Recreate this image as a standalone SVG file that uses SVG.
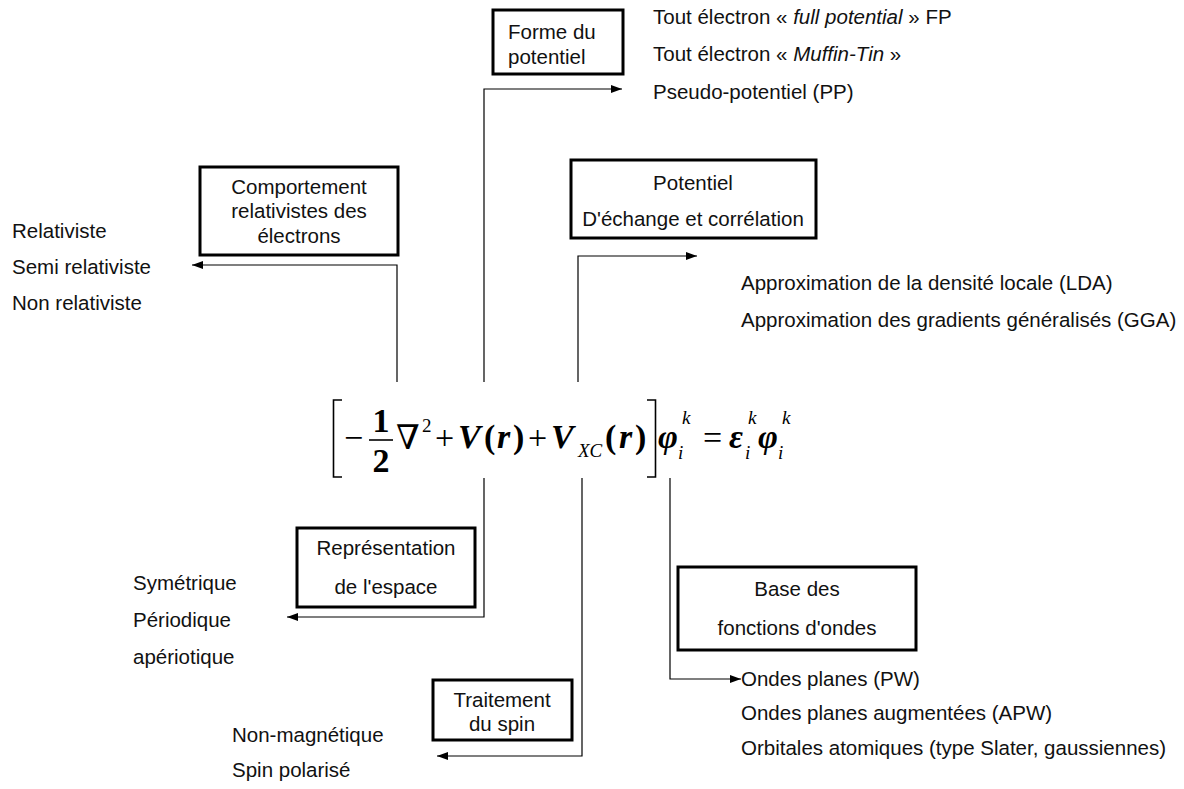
<svg xmlns="http://www.w3.org/2000/svg" width="1184" height="789" viewBox="0 0 1184 789">
  <style>
    .lbl { font-family: "Liberation Sans", Arial, sans-serif; font-size: 20.5px; fill: #111; }
    .mid { text-anchor: middle; }
    .box { fill: #fff; stroke: #000; stroke-width: 3; }
    .wire { fill: none; stroke: #000; stroke-width: 1.2; }
    .m { font-family: "Liberation Serif", "DejaVu Serif", "Times New Roman", serif; fill: #000; font-size: 34px; }
    .bi { font-weight: bold; font-style: italic; }
    .b { font-weight: bold; }
    .it { font-style: italic; }
    .sm { font-size: 19px; }
    .delim { fill: none; stroke: #000; stroke-width: 1.6; }
  </style>
  <defs>
    <marker id="arrow" markerWidth="12" markerHeight="10" refX="11" refY="5" orient="auto" markerUnits="userSpaceOnUse">
      <path d="M0,1 L11,5 L0,9 Z" fill="#000"/>
    </marker>
  </defs>
  <rect width="1184" height="789" fill="#fff"/>

  <!-- connectors from the equation terms to their option lists -->
  <g id="connectors">
    <polyline class="wire" points="484,382 484,89 622,89" marker-end="url(#arrow)"/>
    <polyline class="wire" points="397,382 397,265 192,265" marker-end="url(#arrow)"/>
    <polyline class="wire" points="578,382 578,256 697,256" marker-end="url(#arrow)"/>
    <polyline class="wire" points="484,478 484,617 287,617" marker-end="url(#arrow)"/>
    <polyline class="wire" points="582,478 582,756 437,756" marker-end="url(#arrow)"/>
    <polyline class="wire" points="670,478 670,679 741,679" marker-end="url(#arrow)"/>
  </g>

  <!-- Kohn-Sham equation -->
  <g id="equation">
    <polyline class="delim" points="342,400 333.5,400 333.5,477 342,477"/>
    <polyline class="delim" points="647,400 655.5,400 655.5,477 647,477"/>
    <text class="m" x="344" y="449">−</text>
    <text class="m b mid" x="381" y="432">1</text>
    <line x1="369" y1="440" x2="393" y2="440" stroke="#000" stroke-width="1.6"/>
    <text class="m b mid" x="381" y="472">2</text>
    <text class="m" x="396" y="449">∇</text>
    <text class="m sm" x="422" y="432">2</text>
    <text class="m" x="435" y="449">+</text>
    <text class="m bi" x="458" y="448">V</text>
    <text class="m b" x="484" y="448">(</text>
    <text class="m bi" x="497" y="448">r</text>
    <text class="m b" x="513" y="448">)</text>
    <text class="m" x="528" y="449">+</text>
    <text class="m bi" x="551" y="448">V</text>
    <text class="m it sm" x="578" y="457">XC</text>
    <text class="m b" x="605" y="448">(</text>
    <text class="m bi" x="619" y="448">r</text>
    <text class="m b" x="635" y="448">)</text>
    <text class="m bi" x="658" y="448">φ</text>
    <text class="m it sm" x="682" y="424">k</text>
    <text class="m it sm" x="678" y="459">i</text>
    <text class="m" x="703" y="449">=</text>
    <text class="m bi" x="729" y="448">ε</text>
    <text class="m it sm" x="748" y="424">k</text>
    <text class="m it sm" x="745" y="459">i</text>
    <text class="m bi" x="758" y="448">φ</text>
    <text class="m it sm" x="782" y="424">k</text>
    <text class="m it sm" x="778" y="459">i</text>
  </g>

  <g id="forme-potentiel">
    <rect class="box" x="493" y="10" width="130" height="64"/>
    <text class="lbl" x="508" y="39">Forme du</text>
    <text class="lbl" x="508" y="64">potentiel</text>
    <text class="lbl" x="653" y="24">Tout électron « <tspan font-style="italic">full potential</tspan> » FP</text>
    <text class="lbl" x="653" y="61">Tout électron « <tspan font-style="italic">Muffin-Tin</tspan> »</text>
    <text class="lbl" x="653" y="99">Pseudo-potentiel (PP)</text>
  </g>

  <g id="comportement-relativiste">
    <rect class="box" x="200" y="167" width="198" height="88"/>
    <text class="lbl mid" x="299" y="194">Comportement</text>
    <text class="lbl mid" x="299" y="218">relativistes des</text>
    <text class="lbl mid" x="299" y="243">électrons</text>
    <text class="lbl" x="12" y="238">Relativiste</text>
    <text class="lbl" x="12" y="274">Semi relativiste</text>
    <text class="lbl" x="12" y="310">Non relativiste</text>
  </g>

  <g id="potentiel-xc">
    <rect class="box" x="571" y="160" width="245" height="78"/>
    <text class="lbl mid" x="693" y="190">Potentiel</text>
    <text class="lbl mid" x="693" y="226">D'échange et corrélation</text>
    <text class="lbl" x="741" y="290">Approximation de la densité locale (LDA)</text>
    <text class="lbl" x="741" y="327">Approximation des gradients généralisés (GGA)</text>
  </g>

  <g id="representation-espace">
    <rect class="box" x="297" y="528" width="178" height="79"/>
    <text class="lbl mid" x="386" y="555">Représentation</text>
    <text class="lbl mid" x="386" y="594">de l'espace</text>
    <text class="lbl" x="133" y="590">Symétrique</text>
    <text class="lbl" x="133" y="627">Périodique</text>
    <text class="lbl" x="133" y="664">apériotique</text>
  </g>

  <g id="traitement-spin">
    <rect class="box" x="433" y="680" width="139" height="60"/>
    <text class="lbl mid" x="502" y="707">Traitement</text>
    <text class="lbl mid" x="502" y="731">du spin</text>
    <text class="lbl" x="232" y="742">Non-magnétique</text>
    <text class="lbl" x="232" y="777">Spin polarisé</text>
  </g>

  <g id="base-fonctions">
    <rect class="box" x="678" y="567" width="238" height="83"/>
    <text class="lbl mid" x="797" y="596">Base des</text>
    <text class="lbl mid" x="797" y="635">fonctions d'ondes</text>
    <text class="lbl" x="741" y="686">Ondes planes (PW)</text>
    <text class="lbl" x="741" y="720">Ondes planes augmentées (APW)</text>
    <text class="lbl" x="741" y="755">Orbitales atomiques (type Slater, gaussiennes)</text>
  </g>
</svg>
